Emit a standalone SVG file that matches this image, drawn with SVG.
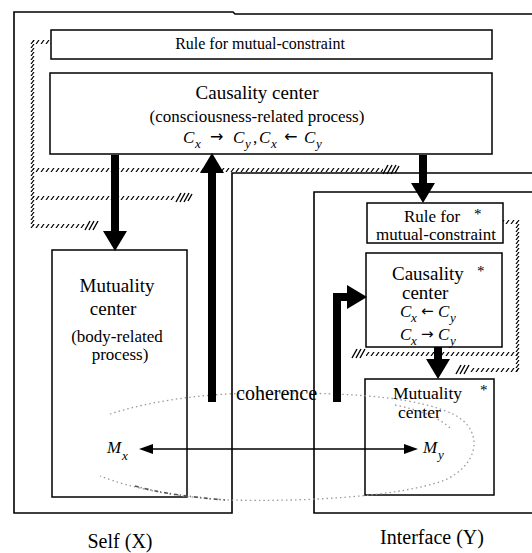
<svg xmlns="http://www.w3.org/2000/svg" width="532" height="553" viewBox="0 0 532 553">
<defs>
<style>
.box{fill:#fff;stroke:#000;stroke-width:1.5}
.frame{fill:none;stroke:#000;stroke-width:1.6}
.t{font-family:"Liberation Serif","Times New Roman",serif;fill:#000}
.it{font-style:italic}
.ar{font-family:"DejaVu Sans",sans-serif;font-style:normal}
.shaft{fill:none;stroke:#000;stroke-width:8;stroke-linejoin:miter;stroke-linecap:butt}
.thin{fill:none;stroke:#000;stroke-width:1.6}
.hatch{fill:url(#hp)}
.dense{stroke:#000;stroke-width:1.4;fill:none}
.loop{fill:none;stroke:#9a9a9a;stroke-width:1.3;stroke-dasharray:1.5 3}
.loopd{fill:none;stroke:#555;stroke-width:1.6;stroke-dasharray:4 2 1 3}
</style>
<pattern id="hp" width="5" height="4" patternUnits="userSpaceOnUse"><path d="M1,4 L4,0" stroke="#000" stroke-width="1.2"/></pattern>
<marker id="head" markerUnits="userSpaceOnUse" markerWidth="20" markerHeight="24" refX="0" refY="12" orient="auto" viewBox="0 0 20 24"><path d="M0,0 L20,12 L0,24 Z" fill="#000"/></marker>
<marker id="small" markerUnits="userSpaceOnUse" markerWidth="14" markerHeight="10" refX="0" refY="5" orient="auto-start-reverse" viewBox="0 0 14 10"><path d="M0,0 L14,5 L0,10 Z" fill="#000"/></marker>
</defs>
<rect width="532" height="553" fill="#fff"/>

<g id="frames">
<path class="frame" d="M532,14 H235 L233,12 H14 V513 H232 V173 H532"/>
<path class="frame" d="M532,192 H314 V513 H532"/>
</g>

<g id="hatching">
<rect class="hatch" x="33" y="40" width="18" height="4"/>
<rect class="hatch" x="30" y="40" width="5" height="188"/>
<rect class="hatch" x="33" y="168" width="350" height="4"/>
<rect class="hatch" x="33" y="196" width="142" height="4"/>
<rect class="hatch" x="33" y="224" width="52" height="4"/>
<path class="dense" d="M383,174 l5,-9 M387,174 l5,-9 M391,174 l5,-9 M395,173 l4,-7"/>
<path class="dense" d="M176,202 l5,-9 M180,202 l5,-9 M184,202 l5,-9 M188,201 l4,-7"/>
<path class="dense" d="M85,230 l5,-9 M89,230 l5,-9 M93,230 l5,-9"/>
<rect class="hatch" x="503" y="220" width="14" height="4"/>
<rect class="hatch" x="515" y="220" width="5" height="152"/>
<rect class="hatch" x="366" y="352" width="152" height="4"/>
<rect class="hatch" x="470" y="368" width="48" height="4"/>
<path class="dense" d="M352,358 l5,-9 M356,358 l5,-9 M360,358 l5,-9"/>
<path class="dense" d="M456,374 l5,-9 M460,374 l5,-9 M464,374 l5,-9"/>
</g>

<g id="rule-self">
<rect class="box" x="51" y="30" width="441" height="29"/>
<text class="t" x="260" y="49" font-size="16" text-anchor="middle">Rule for mutual-constraint</text>
</g>

<g id="causality-self">
<rect class="box" x="50" y="73" width="442" height="81"/>
<text class="t" x="257" y="99" font-size="19" text-anchor="middle">Causality center</text>
<text class="t" x="257" y="122" font-size="17" text-anchor="middle">(consciousness-related process)</text>
<text class="t" font-size="17"><tspan class="it" x="183" y="143">C</tspan><tspan class="it" x="195" y="148" font-size="13">x</tspan><tspan class="ar" x="210" y="142" font-size="16">→</tspan><tspan class="it" x="233" y="143">C</tspan><tspan class="it" x="245" y="148" font-size="13">y</tspan><tspan x="253" y="143">,</tspan><tspan class="it" x="259" y="143">C</tspan><tspan class="it" x="271" y="148" font-size="13">x</tspan><tspan class="ar" x="284" y="142" font-size="16">←</tspan><tspan class="it" x="304" y="143">C</tspan><tspan class="it" x="316" y="148" font-size="13">y</tspan></text>
</g>

<g id="mutuality-self">
<rect class="box" x="52" y="250" width="135" height="247"/>
<text class="t" x="117" y="292" font-size="19" text-anchor="middle">Mutuality</text>
<text class="t" x="113" y="315" font-size="19" text-anchor="middle">center</text>
<text class="t" x="117" y="342" font-size="17" text-anchor="middle">(body-related</text>
<text class="t" x="120" y="360" font-size="17" text-anchor="middle">process)</text>
</g>

<g id="rule-interface">
<rect class="box" x="367" y="203" width="136" height="40"/>
<text class="t" x="432" y="222" font-size="17" text-anchor="middle">Rule for</text>
<text class="t" x="474" y="219" font-size="15">*</text>
<text class="t" x="436" y="240" font-size="17" text-anchor="middle">mutual-constraint</text>
</g>

<g id="causality-interface">
<rect class="box" x="366" y="253" width="136" height="94"/>
<text class="t" x="392" y="280" font-size="19">Causality</text>
<text class="t" x="477" y="276" font-size="15">*</text>
<text class="t" x="402" y="299" font-size="19">center</text>
<text class="t" font-size="17"><tspan class="it" x="400" y="317">C</tspan><tspan class="it" x="411" y="322" font-size="13">x</tspan><tspan class="ar" x="421" y="316" font-size="15">←</tspan><tspan class="it" x="438" y="317">C</tspan><tspan class="it" x="450" y="322" font-size="13">y</tspan></text>
<text class="t" font-size="17"><tspan class="it" x="400" y="340">C</tspan><tspan class="it" x="411" y="345" font-size="13">x</tspan><tspan class="ar" x="421" y="339" font-size="15">→</tspan><tspan class="it" x="438" y="340">C</tspan><tspan class="it" x="450" y="345" font-size="13">y</tspan></text>
</g>

<g id="mutuality-interface">
<rect class="box" x="365" y="379" width="129" height="116"/>
<text class="t" x="393" y="399" font-size="17.5">Mutuality</text>
<text class="t" x="480" y="395" font-size="15">*</text>
<text class="t" x="398" y="418" font-size="17.5">center</text>
</g>

<g id="coherence-loop">
<path class="loop" d="M110,414 C160,398 220,392 280,393 C360,393 420,398 455,415 C485,432 478,465 445,480 C400,497 300,502 230,500 C180,498 130,488 100,476"/>
<path class="loopd" d="M135,486 C160,493 190,497 225,500"/>
<path class="loop" d="M395,405 C420,410 440,418 450,428"/>
</g>

<g id="connectors">
<path class="shaft" d="M115,155 V231" marker-end="url(#head)"/>
<path class="shaft" d="M212,402 V173" marker-end="url(#head)"/>
<path class="shaft" d="M423,155 V183" marker-end="url(#head)"/>
<path class="shaft" d="M438,347 V359" marker-end="url(#head)"/>
<path class="shaft" d="M337,402 V297 H347" marker-end="url(#head)"/>
<path class="thin" d="M153,449 H404" marker-start="url(#small)" marker-end="url(#small)"/>
</g>

<g id="labels">
<text class="t" x="236" y="400" font-size="20">coherence</text>
<text class="t" font-size="17"><tspan class="it" x="107" y="453">M</tspan><tspan class="it" x="122" y="460" font-size="13">x</tspan></text>
<text class="t" font-size="17"><tspan class="it" x="423" y="453">M</tspan><tspan class="it" x="438" y="459" font-size="13">y</tspan></text>
<text class="t" x="120" y="548" font-size="20" text-anchor="middle">Self (X)</text>
<text class="t" x="432" y="544" font-size="20" text-anchor="middle">Interface (Y)</text>
</g>
</svg>
